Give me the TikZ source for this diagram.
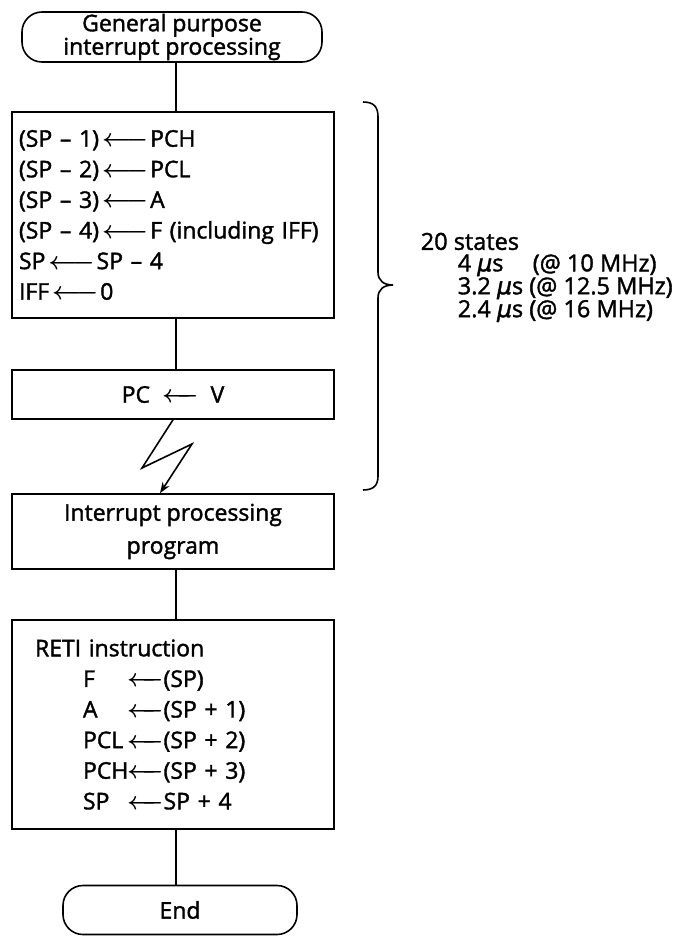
\documentclass[tikz,border=0pt]{standalone}
\usepackage{fontspec}
\setmainfont{Open Sans}[UprightFeatures={FakeBold=1.6}]
\newfontfamily\symf{DejaVu Sans}[ItalicFeatures={FakeBold=1.6}]
\newcommand{\la}{\mbox{\boldmath$\longleftarrow$}}
\newcommand{\lb}{\mbox{\boldmath$\leftarrow\joinrel\mathrel{\mkern-6mu}\relbar$}}
\newcommand{\mus}{{\symf\itshape µ}s}
\usetikzlibrary{arrows.meta}
\begin{document}
\begin{tikzpicture}[x=1pt,y=-1pt,line width=1.6pt,
  box/.style={draw,rectangle,line width=1.6pt,inner sep=0pt,minimum width=322pt},
  term/.style={draw,rectangle,rounded corners=20pt,line width=1.6pt,inner sep=0pt},
  conn/.style={line width=1.6pt},
  bigtxt/.style={font=\fontsize{23}{30.6}\selectfont}]
\useasboundingbox (0,0) rectangle (693,936);
\coordinate (cx) at (176,0);
\node[term,minimum width=300pt,minimum height=50pt,align=center,font=\fontsize{23}{16}\selectfont] (start) at (172,37) {General purpose\\interrupt processing};
\node[box,bigtxt,minimum height=206pt,text width=308pt,inner xsep=7pt,align=left] (b1) at (173,215)
 {\mbox{(SP -- 1)\kern3pt\la\kern2pt PCH}\\
  \mbox{(SP -- 2)\kern3pt\la\kern2pt PCL}\\
  \mbox{(SP -- 3)\kern3pt\la\kern2pt A}\\
  \mbox{(SP -- 4)\kern3pt\la\kern2pt F (including IFF)}\\
  \mbox{SP\kern3pt\la\kern2pt SP -- 4}\\
  \mbox{IFF\kern3pt\la\kern2pt 0}};
\node[box,bigtxt,minimum height=49pt] (b2) at (173,394.5) {PC\hspace{12pt}\lb\hspace{12pt}V};
\node[box,minimum height=75pt,align=center,font=\fontsize{23}{33}\selectfont] (b3) at (173,531.5) {Interrupt processing\\program};
\node[box,bigtxt,minimum height=209pt,text width=276pt,inner xsep=23pt,align=left] (b4) at (173,724.5)
 {RETI instruction\\
  \hspace*{48pt}\makebox[44pt][l]{F}\lb(SP)\\
  \hspace*{48pt}\makebox[44pt][l]{A}\lb(SP + 1)\\
  \hspace*{48pt}\makebox[44pt][l]{PCL}\lb(SP + 2)\\
  \hspace*{48pt}\makebox[44pt][l]{PCH}\lb(SP + 3)\\
  \hspace*{48pt}\makebox[44pt][l]{SP}\lb SP + 4};
\node[term,minimum width=234pt,minimum height=49pt,font=\fontsize{23}{26}\selectfont] (end) at (180,910) {End};
\draw[conn] (start.south -| cx) -- (b1.north -| cx);
\draw[conn] (b1.south -| cx) -- (b2.north -| cx);
\draw[conn] (b3.south -| cx) -- (b4.north -| cx);
\draw[conn] (b4.south -| cx) -- (end.north -| cx);
\coordinate (lz1) at (142,468);
\coordinate (lz2) at (192,444);
\coordinate (lzend) at (160,0);
\draw[conn,-{Stealth[length=11pt,width=8pt]}] (b2.south -| 173,0) -- (lz1) -- (lz2) -- (b3.north -| lzend);
\draw[conn] (363,102) .. controls (374,102) and (378,107) .. (378,117) -- (378,272)
  .. controls (378,281) and (384,285) .. (393,285)
  .. controls (384,285) and (378,289) .. (378,298) -- (378,476)
  .. controls (378,485) and (374,490) .. (363,490);
\node[anchor=north west,align=left,inner sep=0pt,font=\fontsize{23.5}{21.5}\selectfont] (st) at (420,232)
 {20 states\\
  \hspace*{37pt}\makebox[75pt][l]{4 \mus}(@ 10 MHz)\\
  \hspace*{37pt}3.2 \mus\ (@ 12.5 MHz)\\
  \hspace*{37pt}2.4 \mus\ (@ 16 MHz)};
\end{tikzpicture}
\end{document}
